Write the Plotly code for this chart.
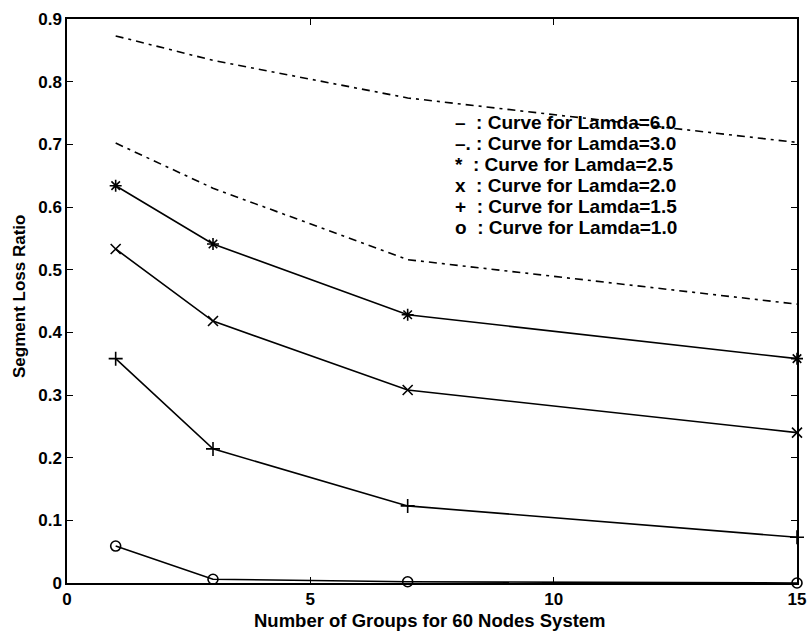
import plotly.graph_objects as go

# Data
groups = [1, 3, 7, 15]
lamda_6_0 = [0.873, 0.834, 0.774, 0.703]
lamda_3_0 = [0.702, 0.630, 0.516, 0.445]
lamda_2_5 = [0.634, 0.541, 0.428, 0.358]
lamda_2_0 = [0.533, 0.418, 0.308, 0.240]
lamda_1_5 = [0.358, 0.214, 0.123, 0.073]
lamda_1_0 = [0.059, 0.006, 0.002, 0.000]

legend_lines = [
    "–  : Curve for Lamda=6.0",
    "–. : Curve for Lamda=3.0",
    "*  : Curve for Lamda=2.5",
    "x  : Curve for Lamda=2.0",
    "+  : Curve for Lamda=1.5",
    "o  : Curve for Lamda=1.0",
]

x_ticks = [0, 5, 10, 15]
y_ticks = [0, 0.1, 0.2, 0.3, 0.4, 0.5, 0.6, 0.7, 0.8, 0.9]
y_tick_text = ["0", "0.1", "0.2", "0.3", "0.4", "0.5", "0.6", "0.7", "0.8", "0.9"]

FONT = "Liberation Sans, Arial, sans-serif"

W, H = 810, 639
L, R, T, B = 67, 13, 19, 56
pw, ph = W - L - R, H - T - B


def px_to_paper(px, py):
    return (px - L) / pw, 1 - (py - T) / ph


fig = go.Figure()

fig.add_trace(go.Scatter(x=groups, y=lamda_6_0, mode="lines",
                         line=dict(color="black", width=1.6, dash="8px,5px,3px,5px")))
fig.add_trace(go.Scatter(x=groups, y=lamda_3_0, mode="lines",
                         line=dict(color="black", width=1.6, dash="8px,5px,3px,5px")))

marker_series = [
    (lamda_2_5, "asterisk-open"),
    (lamda_2_0, "x-thin-open"),
    (lamda_1_5, "cross-thin-open"),
    (lamda_1_0, "circle-open"),
]
for ys, sym in marker_series:
    fig.add_trace(go.Scatter(
        x=groups, y=ys, mode="lines+markers",
        line=dict(color="black", width=1.6),
        marker=dict(symbol=sym, size=10, color="black",
                    line=dict(color="black", width=1.6)),
        cliponaxis=False,
    ))

# Legend drawn as text lines, like the original
for i, txt in enumerate(legend_lines):
    ax, ay = px_to_paper(453, 122.5 + i * 21.0)
    fig.add_annotation(
        x=ax, y=ay, xref="paper", yref="paper",
        text="<b>" + txt + "</b>", showarrow=False,
        xanchor="left", yanchor="middle",
        font=dict(family=FONT, size=19, color="black"),
    )

# Axis titles
tx, ty = px_to_paper(430, 620)
fig.add_annotation(x=tx, y=ty, xref="paper", yref="paper",
                   text="<b>Number of Groups for 60 Nodes System</b>",
                   showarrow=False, xanchor="center", yanchor="middle",
                   font=dict(family=FONT, size=18.5, color="black"))
tx, ty = px_to_paper(19, 297)
fig.add_annotation(x=tx, y=ty, xref="paper", yref="paper",
                   text="<b>Segment Loss Ratio</b>", textangle=-90,
                   showarrow=False, xanchor="center", yanchor="middle",
                   font=dict(family=FONT, size=17, color="black"))

fig.update_layout(
    width=W, height=H,
    margin=dict(l=L, r=R, t=T, b=B, autoexpand=False),
    paper_bgcolor="white", plot_bgcolor="white",
    showlegend=False,
    font=dict(family=FONT, size=15, color="black"),
)
fig.update_xaxes(
    range=[0, 15], tickvals=x_ticks, ticktext=[f"<b>{v}</b>" for v in x_ticks],
    showgrid=False, zeroline=False, showline=True, linecolor="black", linewidth=1.5,
    mirror="ticks", ticks="inside", ticklen=6, tickwidth=1.3, tickcolor="black",
    tickfont=dict(family=FONT, size=17, color="black"), automargin=False,
)
fig.update_yaxes(
    range=[0, 0.9], tickvals=y_ticks, ticktext=[f"<b>{t}</b>" for t in y_tick_text],
    showgrid=False, zeroline=False, showline=True, linecolor="black", linewidth=1.5,
    mirror="ticks", ticks="inside", ticklen=6, tickwidth=1.3, tickcolor="black",
    tickfont=dict(family=FONT, size=17, color="black"), automargin=False,
)

fig.write_html(
    "out.html",
    config={"displayModeBar": False},
    post_script="document.body.style.margin='0';document.body.style.overflow='hidden';",
)
